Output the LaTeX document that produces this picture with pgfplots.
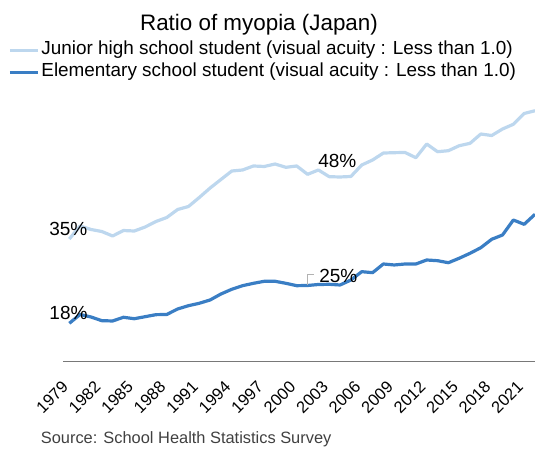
\documentclass[border=0pt]{standalone}
\usepackage{fontspec}
\setmainfont{Liberation Sans}
\usepackage{pgfplots}
\pgfplotsset{compat=1.18}
\usepackage{pgfplotstable}
\definecolor{jhs}{RGB}{189,215,238}
\definecolor{elem}{RGB}{58,126,196}
\definecolor{axgray}{RGB}{120,120,120}
\definecolor{srcgray}{RGB}{64,64,64}
\pgfplotstableread{
year val
1979 35.19
1980 37.83
1981 37.12
1982 36.71
1983 35.80
1984 36.91
1985 36.81
1986 37.62
1987 38.74
1988 39.55
1989 41.17
1990 41.78
1991 43.61
1992 45.53
1993 47.26
1994 48.98
1995 49.19
1996 50.00
1997 49.90
1998 50.40
1999 49.73
2000 50.00
2001 48.31
2002 49.19
2003 47.83
2004 47.77
2005 47.87
2006 50.20
2007 51.21
2008 52.63
2009 52.70
2010 52.74
2011 51.68
2012 54.46
2013 52.90
2014 53.10
2015 54.11
2016 54.60
2017 56.49
2018 56.18
2019 57.50
2020 58.46
2021 60.65
2022 61.21
}\junior
\pgfplotstableread{
year val
1979 18.09
1980 19.88
1981 19.37
1982 18.62
1983 18.56
1984 19.31
1985 19.02
1986 19.43
1987 19.84
1988 19.88
1989 20.99
1990 21.66
1991 22.15
1992 22.82
1993 24.03
1994 24.99
1995 25.72
1996 26.20
1997 26.61
1998 26.61
1999 26.20
2000 25.72
2001 25.76
2002 25.96
2003 26.00
2004 25.86
2005 26.87
2006 28.56
2007 28.36
2008 30.12
2009 29.92
2010 30.12
2011 30.12
2012 30.93
2013 30.79
2014 30.38
2015 31.28
2016 32.29
2017 33.43
2018 35.13
2019 36.00
2020 39.04
2021 38.17
2022 40.20
}\elementary
\begin{document}
\begin{tikzpicture}
\begin{axis}[
  at={(63pt,87pt)}, anchor=south west,
  scale only axis,
  width=472pt, height=293.6pt,
  xmin=1978.418, xmax=2022,
  ymin=10.44, ymax=70,
  clip=false,
  axis x line=bottom,
  axis y line=none,
  x axis line style={-, draw=axgray, line width=0.9pt},
  xtick={1979,1982,1985,1988,1991,1994,1997,2000,2003,2006,2009,2012,2015,2018,2021},
  xticklabels={1979,1982,1985,1988,1991,1994,1997,2000,2003,2006,2009,2012,2015,2018,2021},
  major tick length=0pt,
  xtick style={draw=none},
  xticklabel style={xshift=-4pt, yshift=-23pt, rotate=45, anchor=east, inner sep=0pt,
    font=\fontsize{16.5}{19}\selectfont},
  legend style={at={(-0.11653,1.0882)}, anchor=north west, draw=none, fill=none,
    inner sep=0pt, row sep=5pt, column sep=2pt,
    font=\fontsize{18.9}{22}\selectfont,
    nodes={inner sep=0pt, text height=13pt, text depth=4pt}},
  legend cell align=left,
  legend image code/.code={\draw[#1] (0pt,0pt) -- (28pt,0pt);},
]
\addplot[jhs, line width=3.2pt, line join=round] table[x=year, y=val] {\junior};
\addlegendentry{Junior high school student (visual acuity : Less than 1.0)}
\addplot[elem, line width=3.2pt, line join=round] table[x=year, y=val] {\elementary};
\addlegendentry{Elementary school student (visual acuity : Less than 1.0)}
\end{axis}
% annotations
\node[anchor=base, inner sep=0pt, font=\fontsize{19}{22}\selectfont] at (68.3pt,212.3pt) {35\%};
\node[anchor=base, inner sep=0pt, font=\fontsize{19}{22}\selectfont] at (68.5pt,129pt) {18\%};
\node[anchor=base, inner sep=0pt, font=\fontsize{19}{22}\selectfont] at (337.3pt,280.3pt) {48\%};
\node[anchor=base, inner sep=0pt, font=\fontsize{19}{22}\selectfont] at (338.3pt,165.3pt) {25\%};
\draw[gray!60, line width=0.8pt] (307.7pt,163pt) -- (307.7pt,173.7pt) -- (314.3pt,173.7pt);
% title
\node[font=\fontsize{22.4}{26}\selectfont] at (259pt,423pt) {Ratio of myopia (Japan)};
% source
\node[anchor=base west, inner sep=0pt, text=srcgray, font=\fontsize{16.4}{19}\selectfont] at (40.7pt,4.5pt) {Source: School Health Statistics Survey};
\pgfresetboundingbox
\useasboundingbox (0,0) rectangle (535pt,448pt);
\end{tikzpicture}
\end{document}
